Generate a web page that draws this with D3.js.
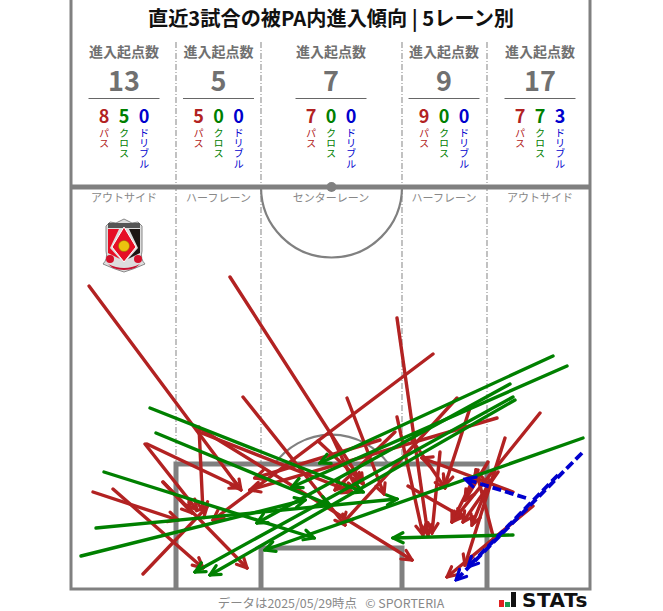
<!DOCTYPE html>
<html lang="ja">
<head>
<meta charset="utf-8">
<script src="https://cdn.jsdelivr.net/npm/d3@7"></script>
<style>
	body { margin: 0; background: #fff; }
	svg { display: block; }
	text { font-family: "Noto Sans CJK JP", "Noto Sans", sans-serif; }
</style>
</head>
<body>
<div id="chart-area"></div>
<script>
// lane summary
const laneNames = ["アウトサイド", "ハーフレーン", "センターレーン", "ハーフレーン", "アウトサイド"];
const laneTotals = [13, 5, 7, 9, 17];
const passCounts = [8, 5, 7, 9, 7];
const crossCounts = [5, 0, 0, 0, 7];
const dribbleCounts = [0, 0, 0, 0, 3];
const typeLabels = ["パス", "クロス", "ドリブル"];
const typeColors = ["#b22222", "#008000", "#0000cd"];

// lane edges, in pitch units (0 = left touchline, 520 = right touchline)
const laneEdges = [0, 106, 191, 332, 417, 520];

// arrows: [startX, startY, endX, endY], pitch units, y from the halfway line
const passes = [
	[19, 99, 171, 303], [77, 257, 170, 301], [75, 257, 127, 323], [93, 295, 177, 381],
	[23, 305, 108, 333], [43, 302, 133, 381], [73, 387, 137, 320], [93, 295, 122, 326],
	[160, 90, 293, 297], [173, 210, 275, 338], [129, 240, 133, 325], [129, 241, 342, 373],
	[129, 245, 282, 305],
	[327, 131, 358, 348], [327, 230, 353, 348], [277, 211, 314, 307], [248, 254, 293, 296],
	[310, 253, 185, 291], [260, 245, 287, 303], [325, 245, 265, 303],
	[363, 167, 143, 333], [387, 211, 273, 336], [427, 231, 180, 303], [400, 221, 375, 298],
	[370, 265, 362, 346], [342, 253, 375, 301], [338, 299, 394, 331], [408, 283, 382, 335],
	[418, 275, 395, 313],
	[470, 226, 382, 335], [435, 251, 395, 378], [463, 319, 377, 390], [443, 305, 352, 271],
	[428, 285, 393, 335], [420, 293, 402, 338], [423, 349, 406, 283]
];
const crosses = [
	[80, 221, 293, 305], [86, 246, 260, 318], [34, 285, 244, 351], [26, 341, 327, 312],
	[11, 369, 235, 313],
	[483, 169, 250, 276], [497, 179, 222, 300], [440, 197, 187, 336], [443, 210, 125, 385],
	[445, 213, 140, 388], [513, 251, 195, 363], [443, 348, 323, 351]
];
const dribbles = [
	[456, 311, 395, 292], [512, 266, 386, 393], [488, 288, 398, 380]
];

// set up canvas
const canvasWidth = 663;
const canvasHeight = 611;

const svg = d3.select("#chart-area")
	.append("svg")
		.attr("width", canvasWidth)
		.attr("height", canvasHeight);

// set up scales
const xScale = d3.scaleLinear().domain([0, 520]).range([70, 590]);
const yScale = d3.scaleLinear().domain([0, 402]).range([187, 589]);

const gray = "#808080";
const midX = xScale(261.5);
const laneCenters = [124, 218.5, 331, 444, 540];

// title
svg.append("text")
	.attr("x", 331)
	.attr("y", 25.5)
	.attr("text-anchor", "middle")
	.attr("font-size", "20.2px")
	.attr("font-weight", 700)
	.attr("fill", "#111")
	.text("直近3試合の被PA内進入傾向 | 5レーン別");

// pitch
const pitch = svg.append("g")
	.attr("fill", "none")
	.attr("stroke", gray);

// lane dividers
pitch.selectAll(".lane-line")
	.data(laneEdges.slice(1, -1))
	.enter()
	.append("line")
		.attr("class", "lane-line")
		.attr("x1", (d) => xScale(d))
		.attr("x2", (d) => xScale(d))
		.attr("y1", 42)
		.attr("y2", yScale(277))
		.attr("stroke", "#999")
		.attr("stroke-width", 1.2)
		.attr("stroke-dasharray", "6,2,1,2");

// touchlines and goal line
pitch.append("path")
	.attr("d", `M${xScale(0) + 1},0 V${yScale(402)} H${xScale(520)} V0`)
	.attr("stroke-width", 3);

// halfway line and centre
pitch.append("line")
	.attr("x1", xScale(0))
	.attr("x2", xScale(520))
	.attr("y1", yScale(0))
	.attr("y2", yScale(0))
	.attr("stroke-width", 5);

pitch.append("circle")
	.attr("cx", midX)
	.attr("cy", yScale(0))
	.attr("r", 5)
	.attr("fill", gray)
	.attr("stroke", "none");

pitch.append("path")
	.attr("d", `M${xScale(191)},${yScale(0)} A70.5,70.5 0 0 0 ${xScale(332)},${yScale(0)}`)
	.attr("stroke-width", 2.2);

// penalty arc, then box and goal area
pitch.append("path")
	.attr("d", `M${midX - 57},${yScale(277)} A70,70 0 0 1 ${midX + 57},${yScale(277)}`)
	.attr("stroke-width", 2.2);

pitch.append("path")
	.attr("d", `M${xScale(106)},${yScale(402)} V${yScale(277)} H${xScale(417)} V${yScale(402)}`)
	.attr("stroke-width", 5);

pitch.append("path")
	.attr("d", `M${xScale(191)},${yScale(402)} V${yScale(361)} H${xScale(332)} V${yScale(402)}`)
	.attr("stroke-width", 5);

// lane summary blocks
const laneGroups = svg.selectAll(".lane")
	.data(laneTotals)
	.enter()
	.append("g")
		.attr("class", "lane")
		.attr("transform", (d, i) => `translate(${laneCenters[i]},0)`);

laneGroups.append("text")
	.attr("y", 57)
	.attr("text-anchor", "middle")
	.attr("font-size", "14px")
	.attr("font-weight", 700)
	.attr("fill", "#707070")
	.text("進入起点数");

laneGroups.append("text")
	.attr("y", 91)
	.attr("text-anchor", "middle")
	.attr("font-size", "27px")
	.attr("font-weight", 700)
	.attr("fill", "#707070")
	.text((d) => d);

laneGroups.append("line")
	.attr("x1", -35.5)
	.attr("x2", 35.5)
	.attr("y1", 98.5)
	.attr("y2", 98.5)
	.attr("stroke", "#666")
	.attr("stroke-width", 1);

const typeCounts = [passCounts, crossCounts, dribbleCounts];

typeLabels.forEach((label, t) => {
	const offset = (t - 1) * 20;

	laneGroups.append("text")
		.attr("x", offset)
		.attr("y", 123)
		.attr("text-anchor", "middle")
		.attr("font-size", "18px")
		.attr("font-weight", 700)
		.attr("fill", typeColors[t])
		.text((d, i) => typeCounts[t][i]);

	laneGroups.append("text")
		.attr("transform", `translate(${offset},128)`)
		.attr("font-size", "10.2px")
		.attr("fill", typeColors[t])
		.style("writing-mode", "vertical-rl")
		.text(label);
});

// lane names
svg.selectAll(".lane-name")
	.data(laneNames)
	.enter()
	.append("text")
		.attr("class", "lane-name")
		.attr("x", (d, i) => laneCenters[i])
		.attr("y", 202)
		.attr("text-anchor", "middle")
		.attr("font-size", "11px")
		.attr("fill", "#888")
		.text((d) => d);

// club crest
const crest = svg.append("g").attr("transform", "translate(124,245)");
crest.append("path")
	.attr("d", "M-18,-19 L-14,-23 L-8,-22 L0,-26 L8,-22 L14,-23 L18,-19 V6 Q16,14 21,19 Q10,24 0,27 Q-10,24 -21,19 Q-16,14 -18,6 Z")
	.attr("fill", "#ddd")
	.attr("stroke", "#888")
	.attr("stroke-width", 1);
crest.append("rect")
	.attr("x", -16).attr("y", -22).attr("width", 32).attr("height", 5)
	.attr("fill", "#555");
crest.append("path")
	.attr("d", "M-16,-16 H-5 L-14,3 L-4,14 L-16,8 Z")
	.attr("fill", "#e60f25");
crest.append("path")
	.attr("d", "M16,-16 H5 L14,3 L4,14 L16,8 Z")
	.attr("fill", "#1d1512");
crest.append("path")
	.attr("d", "M0,-18 L12,2 L0,17 L-12,2 Z")
	.attr("fill", "#e60f25")
	.attr("stroke", "#fff")
	.attr("stroke-width", 1);
crest.append("circle")
	.attr("cx", 0).attr("cy", 1).attr("r", 5.5)
	.attr("fill", "#ecc30f")
	.attr("stroke", "#8a6d00")
	.attr("stroke-width", 0.5);
crest.selectAll(".rose")
	.data([-14, 14])
	.enter()
	.append("circle")
		.attr("class", "rose")
		.attr("cx", (d) => d)
		.attr("cy", 14)
		.attr("r", 4)
		.attr("fill", "#d5102a");
crest.append("path")
	.attr("d", "M-16,19 Q0,27 16,19 L11,23 Q0,27 -11,23 Z")
	.attr("fill", "#c8102e");

// arrowheads
const defs = svg.append("defs");
typeColors.forEach((color, t) => {
	defs.append("marker")
		.attr("id", `head-${t}`)
		.attr("markerUnits", "userSpaceOnUse")
		.attr("orient", "auto")
		.attr("viewBox", "-14 -8 16 16")
		.attr("refX", 0)
		.attr("refY", 0)
		.attr("markerWidth", 16)
		.attr("markerHeight", 16)
		.append("path")
			.attr("d", "M-10,-5 L0,0 L-10,5")
			.attr("fill", "none")
			.attr("stroke", color)
			.attr("stroke-width", 3.2)
			.attr("stroke-linecap", "round");
});

// update function for one arrow type
const drawArrows = (data, t, dash) => {
	svg.append("g")
		.selectAll("line")
		.data(data)
		.enter()
		.append("line")
			.attr("x1", (d) => xScale(d[0]))
			.attr("y1", (d) => yScale(d[1]))
			.attr("x2", (d) => xScale(d[2]))
			.attr("y2", (d) => yScale(d[3]))
			.attr("stroke", typeColors[t])
			.attr("stroke-width", dash ? 3.8 : 3.4)
			.attr("stroke-linecap", dash ? "butt" : "round")
			.attr("stroke-dasharray", dash)
			.attr("marker-end", `url(#head-${t})`);
};

drawArrows(passes, 0, null);
drawArrows(crosses, 1, null);
drawArrows(dribbles, 2, "9,4");

// footer
svg.append("text")
	.attr("x", 331)
	.attr("y", 608)
	.attr("text-anchor", "middle")
	.attr("font-size", "12.4px")
	.attr("fill", "#888")
	.text("データは2025/05/29時点\u00A0\u00A0\u00A0© SPORTERIA");

// STATS logo
const logo = svg.append("g");
logo.append("rect").attr("x", 499).attr("y", 600).attr("width", 5).attr("height", 7).attr("fill", "#e02020");
logo.append("rect").attr("x", 505).attr("y", 602).attr("width", 5).attr("height", 5).attr("fill", "#1a9a50");
logo.append("rect").attr("x", 511).attr("y", 592).attr("width", 5).attr("height", 15).attr("fill", "#111");
logo.append("text")
	.attr("x", 522)
	.attr("y", 607)
	.attr("font-size", "20px")
	.attr("font-weight", 700)
	.attr("letter-spacing", "0.5px")
	.attr("fill", "#111")
	.style("font-family", "'DejaVu Sans', sans-serif")
	.text("STATs");
</script>
</body>
</html>
